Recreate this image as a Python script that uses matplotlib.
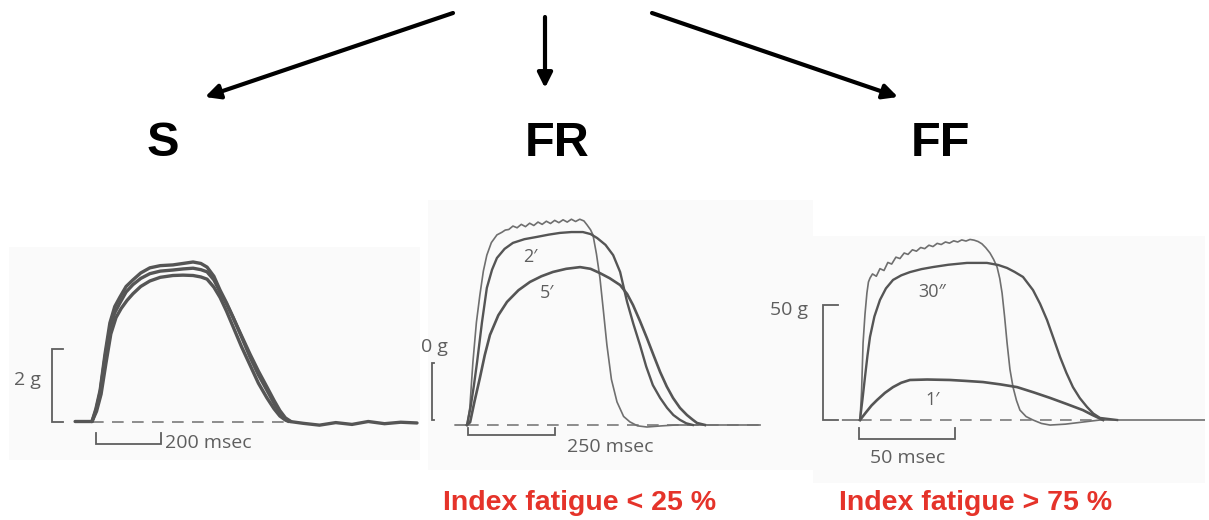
import matplotlib
matplotlib.use("Agg")
import matplotlib.pyplot as plt


# fibre types and fatigue index captions
TITLES = ["S", "FR", "FF"]
FATIGUE_TEXT = ["", "Index fatigue < 25 %", "Index fatigue > 75 %"]

# ---- S (slow) twitch traces: time (msec) / tension (g) ----
S1_T = [-52, -6, 0, 12, 25, 40, 55, 70, 86, 105, 126, 150, 178, 210, 249, 280, 311, 335, 354, 375, 394, 414,
        434, 460, 486, 512, 538, 560, 578, 595, 609, 650, 700, 750, 800, 850, 900, 950, 1000]
S1_G = [0, 0, 0, 0.35, 0.86, 1.85, 2.70, 3.15, 3.41, 3.70, 3.88, 4.07, 4.21, 4.27, 4.29, 4.33, 4.37, 4.33, 4.23,
        3.98, 3.60, 3.25, 2.86, 2.32, 1.77, 1.28, 0.86, 0.50, 0.23, 0.06, 0, -0.05, -0.10, -0.03, -0.08, 0.0,
        -0.06, -0.02, -0.04]
S2_T = [0, 12, 25, 40, 55, 70, 86, 105, 126, 150, 178, 210, 249, 280, 311, 335, 354, 375, 394, 414, 434, 460,
        486, 512, 538, 560, 578, 595, 612]
S2_G = [0, 0.30, 0.80, 1.75, 2.55, 2.98, 3.25, 3.55, 3.75, 3.92, 4.05, 4.12, 4.15, 4.18, 4.20, 4.16, 4.10, 3.88,
        3.55, 3.22, 2.85, 2.35, 1.85, 1.38, 0.95, 0.58, 0.30, 0.10, 0]
S3_T = [0, 14, 28, 43, 58, 74, 90, 108, 126, 150, 178, 210, 249, 280, 311, 335, 354, 375, 394, 414, 434, 460,
        486, 512, 538, 560, 578, 595, 605]
S3_G = [0, 0.28, 0.75, 1.60, 2.40, 2.85, 3.10, 3.32, 3.50, 3.70, 3.85, 3.95, 4.00, 4.01, 4.00, 3.96, 3.90, 3.68,
        3.40, 3.02, 2.60, 2.05, 1.55, 1.05, 0.65, 0.35, 0.15, 0.04, 0]

# ---- FR (fast, fatigue resistant): time (msec) / tension (g) ----
FR1_T = [-34, 0, 8, 17, 27, 37, 47, 57, 70, 86, 100, 110, 120, 132, 144, 156, 168, 180, 192, 204, 216, 228, 240,
         252, 264, 276, 288, 300, 312, 324, 336, 345, 355, 362, 372, 382, 392, 402, 415, 431, 450, 468, 490, 517,
         560, 600, 842]
FR1_G = [0, 0, 6, 22.1, 36, 45.6, 54, 59.6, 64, 66.7, 67.6, 68.4, 68.6, 69.8, 69.2, 70.4, 69.6, 70.8, 70.0, 71.2,
         70.4, 71.5, 70.7, 71.8, 71.0, 72.0, 71.2, 72.2, 71.4, 72.2, 71.6, 70.2, 68.5, 66.7, 60.0, 51.6, 40.0, 28.1,
         16.0, 8.1, 3.0, 1.1, -0.3, -0.7, -0.3, 0, 0]
FR2_T = [0, 10, 20, 29, 43, 57, 72, 86, 108, 132, 165, 201, 235, 267, 300, 333, 355, 374, 398, 420, 440, 460,
         478, 497, 515, 534, 555, 575, 593, 612, 630, 649]
FR2_G = [0, 6, 14, 22.1, 36, 48.1, 54.5, 58.6, 61.8, 63.9, 65.2, 66.0, 66.8, 67.4, 67.7, 67.7, 67.0, 65.6, 63.2,
         59.6, 53.7, 43.2, 35.5, 28.1, 20.5, 14.0, 9.5, 6.0, 3.5, 1.8, 0.6, 0]
FR3_T = [0, 9, 22, 37, 51, 66, 90, 115, 148, 181, 214, 247, 285, 325, 355, 382, 410, 440, 460, 477, 497, 517,
         536, 555, 574, 592, 612, 632, 647, 661, 684]
FR3_G = [0, 1.0, 8.5, 16.5, 24.5, 31.6, 38.5, 43.2, 47.3, 50.2, 52.2, 53.7, 54.8, 55.4, 54.8, 53.3, 51.5, 49.1,
         46.0, 42.1, 36.5, 30.5, 24.5, 18.6, 13.5, 9.5, 6.0, 3.5, 2.0, 0.7, 0]

# ---- FF (fast fatigable): time (msec) / tension (g) ----
FF1_T = [-9, 0, 0.8, 1.6, 2.6, 3.6, 4.4, 5.2, 6.5, 8.5, 10.4, 12.5, 14.5, 16.5, 18.7, 20.8, 23.0, 25.0, 27.3,
         29.4, 31.6, 33.7, 35.9, 38.0, 40.2, 42.3, 44.5, 46.6, 48.8, 50.9, 53.0, 55.2, 57.3, 59.4, 61.5, 63.5,
         65.5, 67.7, 69.6, 71.4, 72.8, 74.0, 75.3, 76.6, 78.1, 79.7, 81.5, 83.3, 86.5, 90.1, 94.5, 99.0, 107.0,
         116.0, 125.0, 181.0]
FF1_G = [0, 0, 12, 33.5, 46, 55.2, 60, 61.7, 63.5, 62.5, 65.8, 65.0, 68.5, 67.8, 70.8, 70.2, 72.6, 72.0, 74.0,
         73.4, 75.0, 74.5, 76.0, 75.4, 76.8, 76.3, 77.4, 76.9, 77.9, 77.4, 78.3, 77.8, 78.5, 78.2, 77.6, 76.6,
         74.9, 72.6, 69.8, 66.5, 61.5, 55.2, 45.0, 33.5, 22.0, 14.3, 8.5, 4.3, 1.5, 0, -1.5, -2.2, -1.8, -0.9, 0, 0]
FF2_T = [0, 1.3, 2.6, 3.9, 5.2, 7.5, 10.4, 13.5, 17.2, 21.5, 26.0, 32.0, 38.0, 46.0, 55.7, 66.1, 72.0, 76.6,
         80.5, 84.9, 90.1, 93.8, 97.4, 100.8, 104.2, 107.5, 110.9, 114.5, 118.2, 121.5, 125.0, 133.9]
FF2_G = [0, 9, 18.7, 28, 36.1, 45, 52.2, 57.2, 60.9, 62.9, 64.3, 65.6, 66.5, 67.5, 68.3, 68.3, 67.4, 66.1, 64.4,
         62.2, 56.5, 50.5, 43.5, 35.5, 27.4, 20.5, 14.3, 9.5, 5.7, 2.8, 0.9, 0]
FF3_T = [0, 3.0, 6.0, 8.9, 13.0, 17.2, 21.5, 26.0, 35.0, 46.9, 55.0, 64.1, 73.0, 81.8, 90.5, 99.0, 107.5,
         116.1, 121.0, 126.6]
FF3_G = [0, 3.2, 6.3, 8.7, 11.8, 14.3, 16.2, 17.4, 17.6, 17.4, 17.0, 16.5, 15.5, 14.3, 12.0, 9.6, 7.0, 4.3,
         2.2, 0]

TRACE_COLOR = "#555555"
FRESH_COLOR = "#6f6f6f"
LABEL_COLOR = "#5e5e5e"
PANEL_COLOR = "#fafafa"
RED = "#e5332a"

W, H = 1209, 520


def panel_axes(fig, box, origin, px_per_ms, px_per_g):
    # box / origin are pixel positions measured from the top-left corner
    x0, y0, x1, y1 = box
    ox, oy = origin
    ax = fig.add_axes([x0 / W, 1 - y1 / H, (x1 - x0) / W, (y1 - y0) / H])
    ax.set_xlim((x0 - ox) / px_per_ms, (x1 - ox) / px_per_ms)
    ax.set_ylim((oy - y1) / px_per_g, (oy - y0) / px_per_g)
    ax.set_facecolor(PANEL_COLOR)
    ax.set_xticks([])
    ax.set_yticks([])
    for spine in ax.spines.values():
        spine.set_visible(False)
    return ax


def draw_bracket(ax, x, x_tick, bottom, top):
    ax.plot([x_tick, x, x, x_tick], [top, top, bottom, bottom], color=LABEL_COLOR, lw=1.3,
            clip_on=False, solid_joinstyle="miter")


def draw_timebar(ax, start, stop, y, y_tick):
    ax.plot([start, start, stop, stop], [y_tick, y, y, y_tick], color=LABEL_COLOR, lw=1.3,
            clip_on=False, solid_joinstyle="miter")


def label(ax, x, y, text, size=14, ha="center"):
    ax.text(x, y, text, fontsize=size, color=LABEL_COLOR, ha=ha, va="center",
            family="Open Sans", clip_on=False)


def main():
    fig = plt.figure(figsize=(W / 100, H / 100), dpi=100)
    fig.patch.set_facecolor("white")

    canvas = fig.add_axes([0, 0, 1, 1])
    canvas.set_xlim(0, W)
    canvas.set_ylim(H, 0)
    canvas.axis("off")

    arrow = dict(arrowstyle="-|>", lw=3, color="black", mutation_scale=22, shrinkA=0, shrinkB=0)
    canvas.annotate("", xy=(205, 97), xytext=(453, 13), arrowprops=arrow)
    canvas.annotate("", xy=(545, 88), xytext=(545, 17), arrowprops=arrow)
    canvas.annotate("", xy=(898, 97), xytext=(652, 13), arrowprops=arrow)

    for x, title in zip([163, 557, 941], TITLES):
        canvas.text(x, 143, title, fontsize=35, fontweight="bold", family="Liberation Sans",
                    ha="center", va="center")
    for x, text in zip([0, 580, 976], FATIGUE_TEXT):
        if text:
            canvas.text(x, 503, text, fontsize=20.5, fontweight="bold", family="Liberation Sans",
                        color=RED, ha="center", va="center")

    # --- S panel ---
    ax = panel_axes(fig, (9, 247, 420, 460), (92, 421.5), 0.325, 36.5)
    ax.plot([0, 609], [0, 0], color="#7a7a7a", lw=1.2, dashes=(7, 5))
    for t, g in [(S3_T, S3_G), (S2_T, S2_G), (S1_T, S1_G)]:
        ax.plot(t, g, color=TRACE_COLOR, lw=2.4, solid_capstyle="round")
    draw_bracket(ax, -123, -89, 0, 2)
    draw_timebar(ax, 12, 212, -0.62, -0.32)
    label(ax, -200, 1.14, "2 g")
    label(ax, 225, -0.58, "200 msec", ha="left")

    # --- FR panel ---
    ax = panel_axes(fig, (428, 200, 813, 470), (467, 425), 0.348, 2.85)
    ax.plot([0, 842], [0, 0], color="#7a7a7a", lw=1.2, dashes=(7, 5))
    ax.plot(FR1_T, FR1_G, color=FRESH_COLOR, lw=1.2)
    ax.plot(FR2_T, FR2_G, color=TRACE_COLOR, lw=1.7)
    ax.plot(FR3_T, FR3_G, color=TRACE_COLOR, lw=1.9)
    draw_bracket(ax, -100, -94, 1.8, 21.8)
    draw_timebar(ax, 3, 253, -3.5, -1.05)
    label(ax, -132, 27.4, "0 g", ha="left")
    label(ax, 411, -7.7, "250 msec")
    label(ax, 181, 59, "2\u2032", size=13)
    label(ax, 230, 46.3, "5\u2032", size=13)

    # --- FF panel ---
    ax = panel_axes(fig, (813, 236, 1205, 483), (860, 420), 1.92, 2.3)
    ax.plot([0, 125], [0, 0], color="#7a7a7a", lw=1.2, dashes=(7, 5))
    ax.plot(FF1_T, FF1_G, color=FRESH_COLOR, lw=1.2)
    ax.plot(FF2_T, FF2_G, color=TRACE_COLOR, lw=1.7)
    ax.plot(FF3_T, FF3_G, color=TRACE_COLOR, lw=1.9)
    draw_bracket(ax, -19.3, -11.5, 0, 50)
    draw_timebar(ax, -0.5, 49.5, -8.3, -3.5)
    label(ax, -37, 47.8, "50 g")
    label(ax, 25, -16.5, "50 msec")
    label(ax, 37.5, 55.7, "30\u2033", size=13)
    label(ax, 38, 8.7, "1\u2032", size=13)

    fig.savefig("out.png", dpi=100, facecolor="white")
    plt.close(fig)


if __name__ == "__main__":
    main()
